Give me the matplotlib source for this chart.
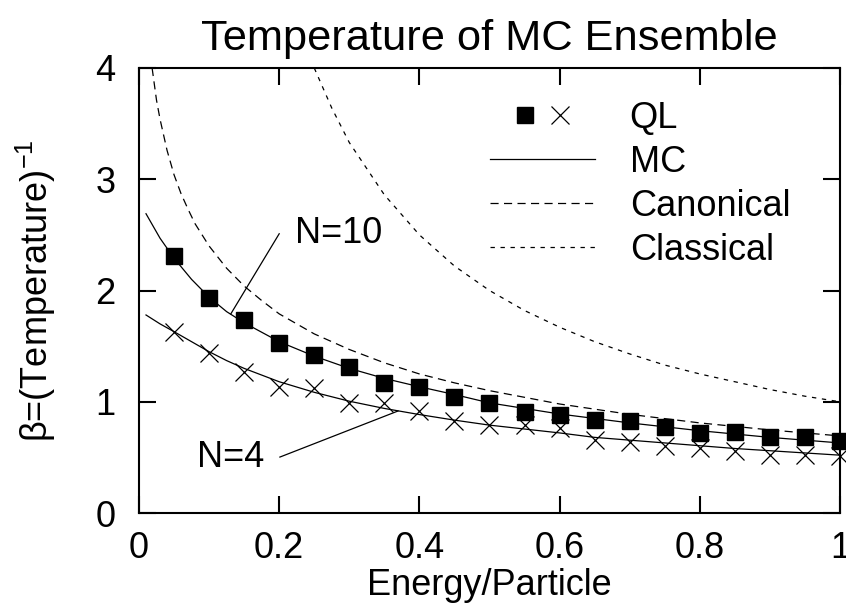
import matplotlib
matplotlib.use('Agg')
import matplotlib.pyplot as plt
from matplotlib.lines import Line2D
from matplotlib.legend_handler import HandlerTuple

plt.rcParams['font.family'] = ['Liberation Sans', 'DejaVu Sans']
plt.rcParams['mathtext.fontset'] = 'custom'
plt.rcParams['mathtext.rm'] = 'Liberation Sans'
plt.rcParams['mathtext.it'] = 'Liberation Sans'
plt.rcParams['font.size'] = 26

# QL points, N=10 (squares) and N=4 (crosses)
e_ql = [0.05, 0.10, 0.15, 0.20, 0.25, 0.30, 0.35, 0.40, 0.45, 0.50,
        0.55, 0.60, 0.65, 0.70, 0.75, 0.80, 0.85, 0.90, 0.95, 1.00]
ql_n10 = [2.31, 1.935, 1.735, 1.525, 1.42, 1.31, 1.17, 1.13, 1.045, 0.99,
          0.91, 0.88, 0.84, 0.83, 0.77, 0.72, 0.73, 0.68, 0.68, 0.65]
ql_n4 = [1.63, 1.44, 1.27, 1.135, 1.12, 0.99, 0.985, 0.917, 0.83, 0.79,
         0.79, 0.76, 0.656, 0.64, 0.60, 0.585, 0.56, 0.52, 0.525, 0.51]

# MC curves
e_mc = [0.01, 0.03, 0.05, 0.075, 0.10, 0.125, 0.15, 0.20, 0.25, 0.30, 0.35, 0.40,
        0.45, 0.50, 0.55, 0.60, 0.65, 0.70, 0.75, 0.80, 0.85, 0.90, 0.95, 1.00]
mc_n10 = [2.69, 2.47, 2.29, 2.10, 1.94, 1.81, 1.71, 1.54, 1.41, 1.30, 1.21, 1.135,
          1.065, 0.99, 0.94, 0.89, 0.85, 0.81, 0.775, 0.74, 0.71, 0.68, 0.655, 0.63]
mc_n4 = [1.78, 1.70, 1.63, 1.54, 1.45, 1.37, 1.30, 1.18, 1.085, 1.005, 0.94, 0.885,
         0.835, 0.79, 0.755, 0.72, 0.68, 0.655, 0.63, 0.605, 0.58, 0.56, 0.54, 0.52]

# canonical curve
e_can = [0.0187, 0.025, 0.03, 0.04, 0.05, 0.06, 0.07, 0.08, 0.10, 0.125, 0.15, 0.175,
         0.20, 0.25, 0.30, 0.35, 0.40, 0.45, 0.50, 0.60, 0.70, 0.80, 0.90, 1.00]
b_can = [4.00, 3.71, 3.54, 3.26, 3.04, 2.87, 2.73, 2.60, 2.40, 2.20, 2.04, 1.91,
         1.79, 1.61, 1.47, 1.35, 1.25, 1.17, 1.10, 0.98, 0.887, 0.81, 0.747, 0.693]

# classical curve
e_cls = [0.25, 0.275, 0.30, 0.35, 0.40, 0.45, 0.50, 0.55, 0.60, 0.65, 0.70, 0.75,
         0.80, 0.85, 0.90, 0.95, 1.00]
b_cls = [4.00, 3.64, 3.33, 2.86, 2.50, 2.22, 2.00, 1.82, 1.67, 1.54, 1.43, 1.33,
         1.25, 1.18, 1.11, 1.05, 1.00]

fig = plt.figure(figsize=(8.46, 6.08), dpi=100)
ax = fig.add_axes([0.1643, 0.1562, 0.8286, 0.732])

lw = 0.9
ax.plot(e_mc, mc_n10, color='black', lw=lw)
ax.plot(e_mc, mc_n4, color='black', lw=lw)
ax.plot(e_can, b_can, color='black', lw=lw, dashes=(6.5, 4.3))
ax.plot(e_cls, b_cls, color='black', lw=lw, dashes=(3.5, 4.5))
ax.plot(e_ql, ql_n10, 's', color='black', ms=11, clip_on=False)
ax.plot(e_ql, ql_n4, 'x', color='black', ms=13, mew=0.9, clip_on=False)

# labels with pointer lines
ax.plot([0.2, 0.131], [2.51, 1.79], color='black', lw=lw)
ax.text(0.2225, 2.51, 'N=10', ha='left', va='center')
ax.plot([0.201, 0.3695], [0.503, 0.917], color='black', lw=lw)
ax.text(0.178, 0.50, 'N=4', ha='right', va='center')

ax.set_xlim(0, 1)
ax.set_ylim(0, 4)
ax.set_xticks([0, 0.2, 0.4, 0.6, 0.8, 1])
ax.set_xticklabels(['0', '0.2', '0.4', '0.6', '0.8', '1'])
ax.set_yticks([0, 1, 2, 3, 4])
ax.tick_params(direction='in', length=12, width=1.5, top=True, right=True)
ax.tick_params(axis='x', pad=13)
ax.tick_params(axis='y', pad=17)
for s in ax.spines.values():
    s.set_linewidth(1.5)

ax.set_title('Temperature of MC Ensemble', pad=13)
ax.set_xlabel('Energy/Particle')
ax.set_ylabel('β=(Temperature)$^{-1}$')
ax.xaxis.set_label_coords(0.5, -0.1236)
ax.yaxis.set_label_coords(-0.1155, 0.5)

sq = Line2D([], [], marker='s', color='black', ls='none', ms=11)
cr = Line2D([], [], marker='x', color='black', ls='none', ms=13, mew=0.9)
h_mc = Line2D([], [], color='black', lw=lw)
h_can = Line2D([], [], color='black', lw=lw, dashes=(6.5, 4.3))
h_cls = Line2D([], [], color='black', lw=lw, dashes=(3.5, 4.5))
ax.legend([(sq, cr), h_mc, h_can, h_cls], ['QL', 'MC', 'Canonical', 'Classical'],
          handler_map={tuple: HandlerTuple(ndivide=None, pad=-0.97)},
          loc='upper left', bbox_to_anchor=(0.5007, 0.926), borderpad=0,
          borderaxespad=0, frameon=False, handlelength=2.9, handletextpad=0.97,
          labelspacing=0.25)

fig.savefig('out.png', dpi=100)
